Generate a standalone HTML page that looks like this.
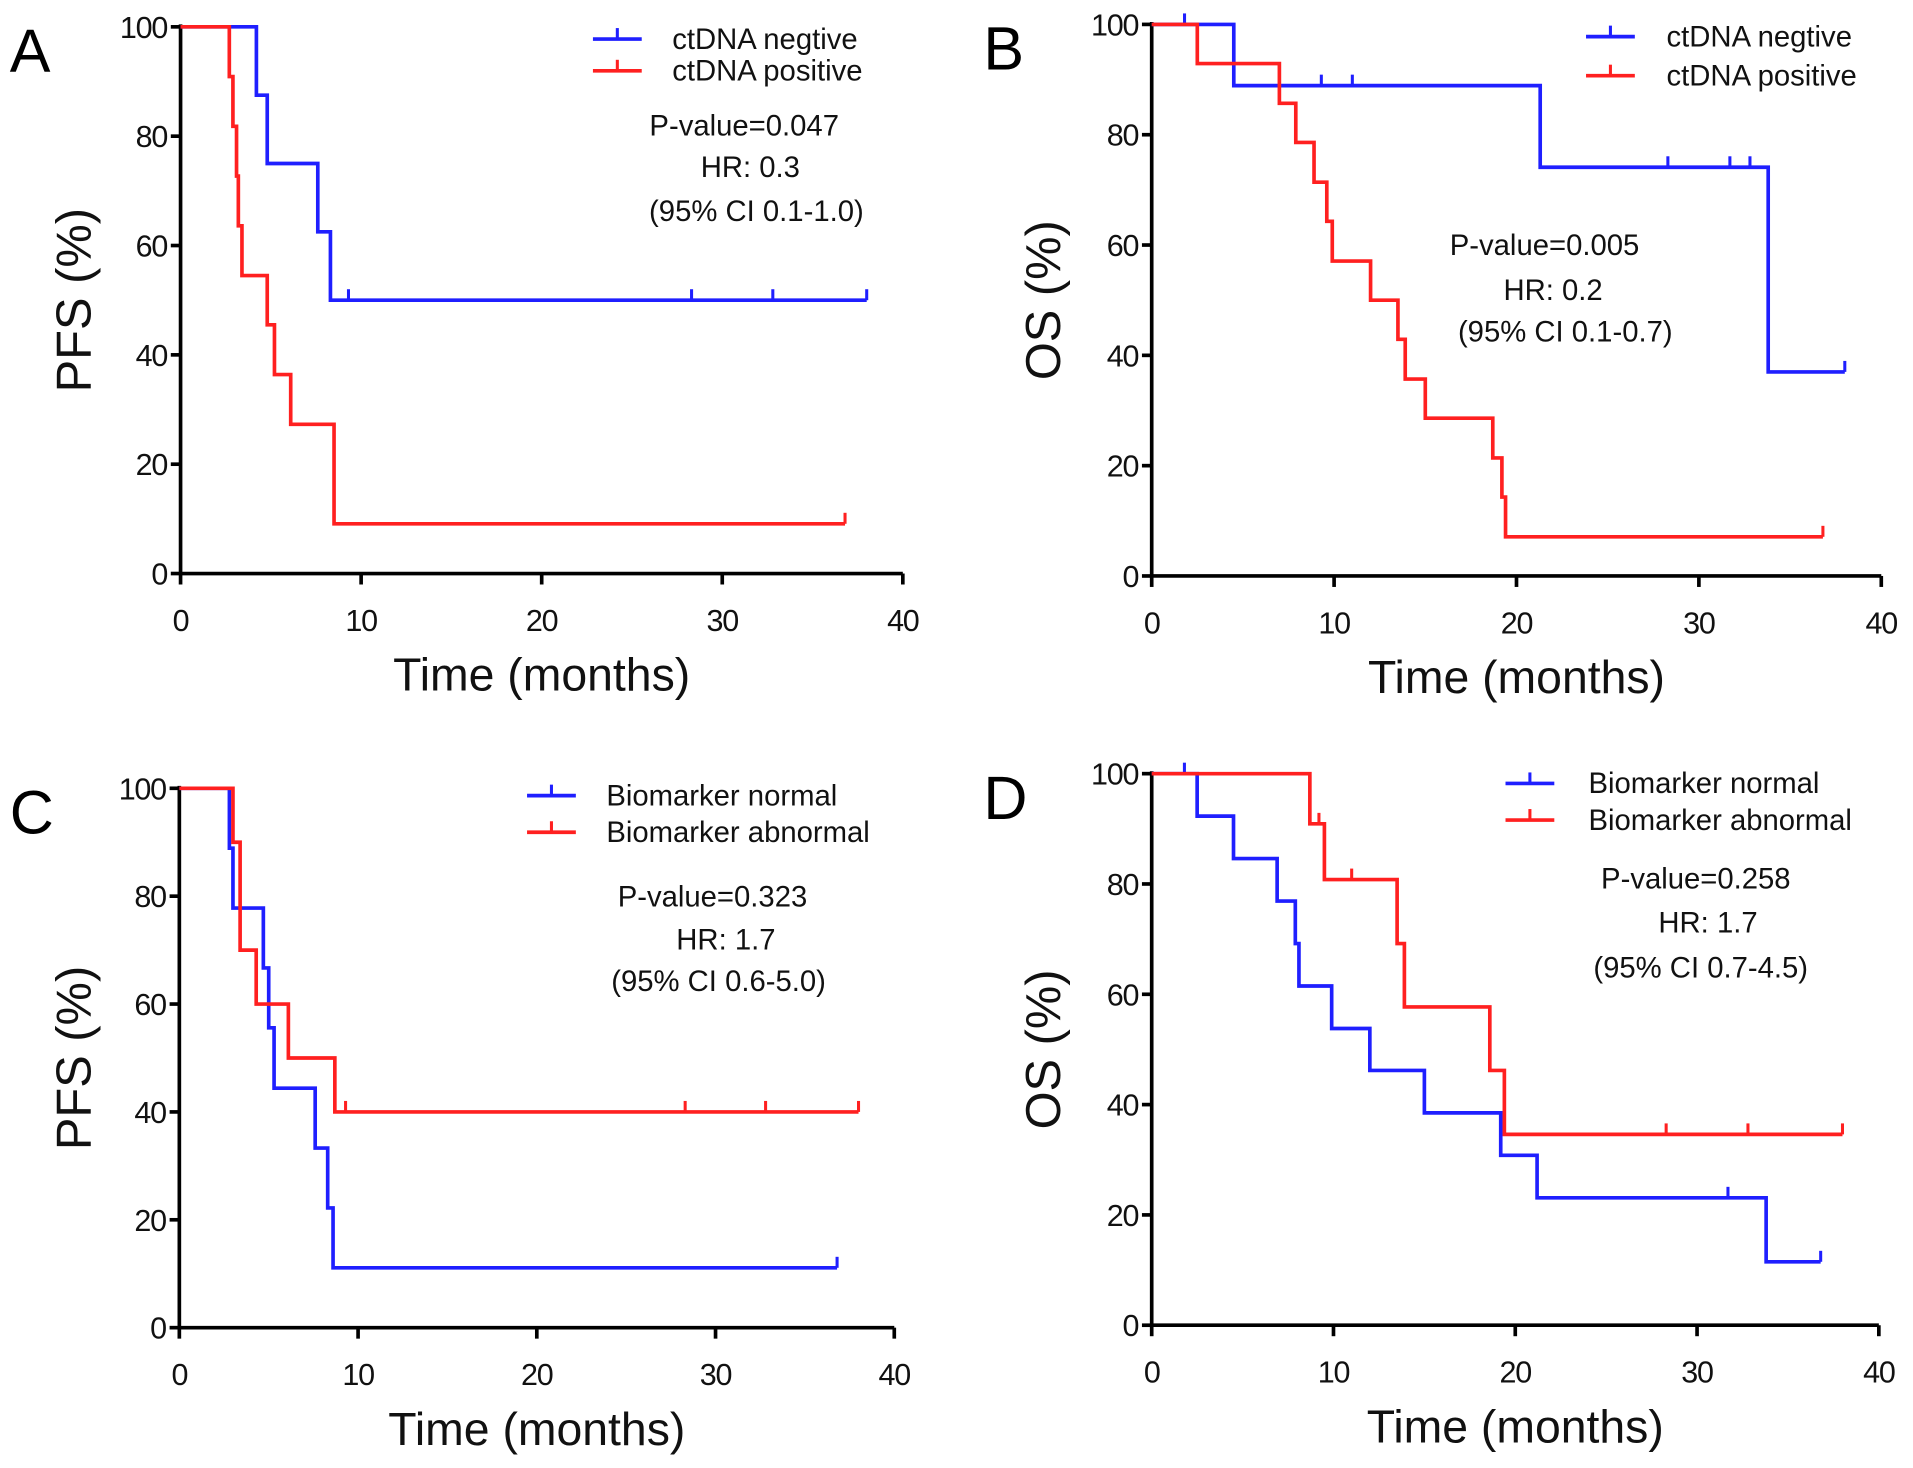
<!DOCTYPE html>
<html><head><meta charset="utf-8"><style>
html,body{margin:0;padding:0;background:#fff;}
svg{display:block;font-family:"Liberation Sans",Arial,sans-serif;}
</style></head><body>
<svg id="fig" width="1913" height="1468" viewBox="0 0 1568 1203" preserveAspectRatio="none" xmlns="http://www.w3.org/2000/svg"></svg>
<script>
// ---- data ----
const xTicks = [0,10,20,30,40];
const yTicks = [0,20,40,60,80,100];
// Panel A (PFS, ctDNA)
const aNegTimes = [0,4.2,4.8,7.6,8.3,38];
const aNegSurv  = [100,87.5,75,62.5,50,50];
const aNegCens  = [9.3,28.3,32.8,38];
const aPosTimes = [0,2.7,2.9,3.1,3.2,3.4,4.8,5.2,6.1,8.5,36.8];
const aPosSurv  = [100,90.9,81.8,72.7,63.6,54.5,45.5,36.4,27.3,9.1,9.1];
const aPosCens  = [36.8];
// Panel B (OS, ctDNA)
const bNegTimes = [0,4.5,21.3,33.8,38];
const bNegSurv  = [100,88.9,74.1,37,37];
const bNegCens  = [1.8,9.3,11,28.3,31.7,32.8,38];
const bPosTimes = [0,2.5,7,7.9,8.9,9.6,9.9,12,13.5,13.9,15,18.7,19.2,19.4,36.8];
const bPosSurv  = [100,92.9,85.7,78.6,71.4,64.3,57.1,50,42.9,35.7,28.6,21.4,14.3,7.1,7.1];
const bPosCens  = [36.8];
// Panel C (PFS, biomarker)
const cNorTimes = [0,2.8,3.0,4.7,5.0,5.3,7.6,8.3,8.6,36.8];
const cNorSurv  = [100,88.9,77.8,66.7,55.6,44.4,33.3,22.2,11.1,11.1];
const cNorCens  = [36.8];
const cAbnTimes = [0,3.0,3.4,4.3,6.1,8.7,38];
const cAbnSurv  = [100,90,70,60,50,40,40];
const cAbnCens  = [9.3,28.3,32.8,38];
// Panel D (OS, biomarker)
const dNorTimes = [0,2.5,4.5,6.9,7.9,8.1,9.9,12,15,19.2,21.2,33.8,36.8];
const dNorSurv  = [100,92.3,84.6,76.9,69.2,61.5,53.8,46.2,38.5,30.8,23.1,11.5,11.5];
const dNorCens  = [1.8,31.7,36.8];
const dAbnTimes = [0,8.7,9.5,13.5,13.9,18.6,19.4,38];
const dAbnSurv  = [100,90.9,80.8,69.2,57.7,46.2,34.6,34.6];
const dAbnCens  = [9.2,11,28.3,32.8,38];

const NS="http://www.w3.org/2000/svg";
const svg=document.getElementById('fig');
function mk(tag,attrs,parent){const e=document.createElementNS(NS,tag);for(const k in attrs)e.setAttribute(k,attrs[k]);(parent||svg).appendChild(e);return e;}
function txt(s,attrs,parent){const e=mk('text',attrs,parent);e.textContent=s;return e;}

const BLUE="#1f1fff", RED="#ff2020";
const panels=[
 {id:'a',letter:'A',x0:148,x1:740,y0:470,y1:22,ytitle:'PFS (%)',lx:60,
  s1:[aNegTimes,aNegSurv,aNegCens],s2:[aPosTimes,aPosSurv,aPosCens],
  leg:['ctDNA negtive','ctDNA positive'],legX:486,legY:[32,58],legT:551,
  ann:['P-value=0.047','HR: 0.3','(95% CI 0.1-1.0)'],annX:[610,615,620],annY:[111,145,181]},
 {id:'b',letter:'B',x0:944,x1:1542,y0:472,y1:20,ytitle:'OS (%)',lx:855,
  s1:[bNegTimes,bNegSurv,bNegCens],s2:[bPosTimes,bPosSurv,bPosCens],
  leg:['ctDNA negtive','ctDNA positive'],legX:1300,legY:[30,62],legT:1366,
  ann:['P-value=0.005','HR: 0.2','(95% CI 0.1-0.7)'],annX:[1266,1273,1283],annY:[209,246,280]},
 {id:'c',letter:'C',x0:147,x1:733,y0:1088,y1:646,ytitle:'PFS (%)',lx:60,
  s1:[cNorTimes,cNorSurv,cNorCens],s2:[cAbnTimes,cAbnSurv,cAbnCens],
  leg:['Biomarker normal','Biomarker abnormal'],legX:432,legY:[652,682],legT:497,
  ann:['P-value=0.323','HR: 1.7','(95% CI 0.6-5.0)'],annX:[584,595,589],annY:[743,778,812]},
 {id:'d',letter:'D',x0:944,x1:1540,y0:1086,y1:634,ytitle:'OS (%)',lx:855,
  s1:[dNorTimes,dNorSurv,dNorCens],s2:[dAbnTimes,dAbnSurv,dAbnCens],
  leg:['Biomarker normal','Biomarker abnormal'],legX:1234,legY:[642,672],legT:1302,
  ann:['P-value=0.258','HR: 1.7','(95% CI 0.7-4.5)'],annX:[1390,1400,1394],annY:[728,764,801]}
];

function stepSurv(t,times,surv){let v=surv[0];for(let i=0;i<times.length;i++){if(times[i]<=t)v=surv[i];}return v;}

panels.forEach(p=>{
  const g=mk('g',{});
  
  
  const X=t=>p.x0+(p.x1-p.x0)*t/40;
  const Y=v=>p.y0-(p.y0-p.y1)*v/100;
  const L=txt(p.letter,{x:p.id==='a'||p.id==='c'?8:806,y:p.y1+37,'font-size':50,fill:'#000'},g);
  
  
  const ax=mk('path',{d:`M${p.x0},${p.y1-2} V${p.y0} H${p.x1}`,stroke:'#000','stroke-width':3,fill:'none'},g);
  
  
  yTicks.forEach(v=>{
    mk('line',{x1:p.x0-8,x2:p.x0,y1:Y(v),y2:Y(v),stroke:'#000','stroke-width':3},g);
    const t=txt(String(v),{x:p.x0-11,y:Y(v)+9,'font-size':25,'text-anchor':'end',fill:'#111','letter-spacing':-1},g);
    
    
  });
  xTicks.forEach(v=>{
    mk('line',{x1:X(v),x2:X(v),y1:p.y0,y2:p.y0+9,stroke:'#000','stroke-width':3},g);
    const t=txt(String(v),{x:X(v),y:p.y0+47,'font-size':25,'text-anchor':'middle',fill:'#111','letter-spacing':-1},g);
    
    
  });
  const xt=txt('Time (months)',{x:(p.x0+p.x1)/2,y:p.y0+96,'font-size':38,'text-anchor':'middle',fill:'#111'},g);
  
  
  const yc=(p.y0+p.y1)/2;
  const yt=txt(p.ytitle,{x:p.lx,y:yc,'font-size':40,'text-anchor':'middle',fill:'#111',transform:`rotate(-90 ${p.lx} ${yc}) translate(0 14)`},g);
  
  
  [[p.s1,BLUE,'series-1'],[p.s2,RED,'series-2']].forEach(([s,col,nm])=>{
    const [tm,sv,cz]=s;
    let d=`M${X(tm[0])},${Y(sv[0])}`;
    for(let i=1;i<tm.length;i++){d+=` H${X(tm[i])} V${Y(sv[i])}`;}
    const pa=mk('path',{d:d,stroke:col,'stroke-width':3,fill:'none'},g);
    
    
    cz.forEach(c=>{
      const v=stepSurv(c,tm,sv);
      const l=mk('line',{x1:X(c),x2:X(c),y1:Y(v),y2:Y(v)-9,stroke:col,'stroke-width':2.5},g);
      
      
    });
  });
  [BLUE,RED].forEach((col,i)=>{
    const y=p.legY[i];
    const lg=mk('g',{},g);
    
    
    mk('line',{x1:p.legX,x2:p.legX+40,y1:y,y2:y,stroke:col,'stroke-width':3},lg);
    mk('line',{x1:p.legX+20,x2:p.legX+20,y1:y,y2:y-9,stroke:col,'stroke-width':2.5},lg);
    txt(p.leg[i],{x:p.legT,y:y+8,'font-size':24,fill:'#111'},lg);
  });
  p.ann.forEach((s,i)=>{
    const a=txt(s,{x:p.annX[i],y:p.annY[i],'font-size':24,'text-anchor':'middle',fill:'#111'},g);
    
    
  });
});
</script>
</body></html>
